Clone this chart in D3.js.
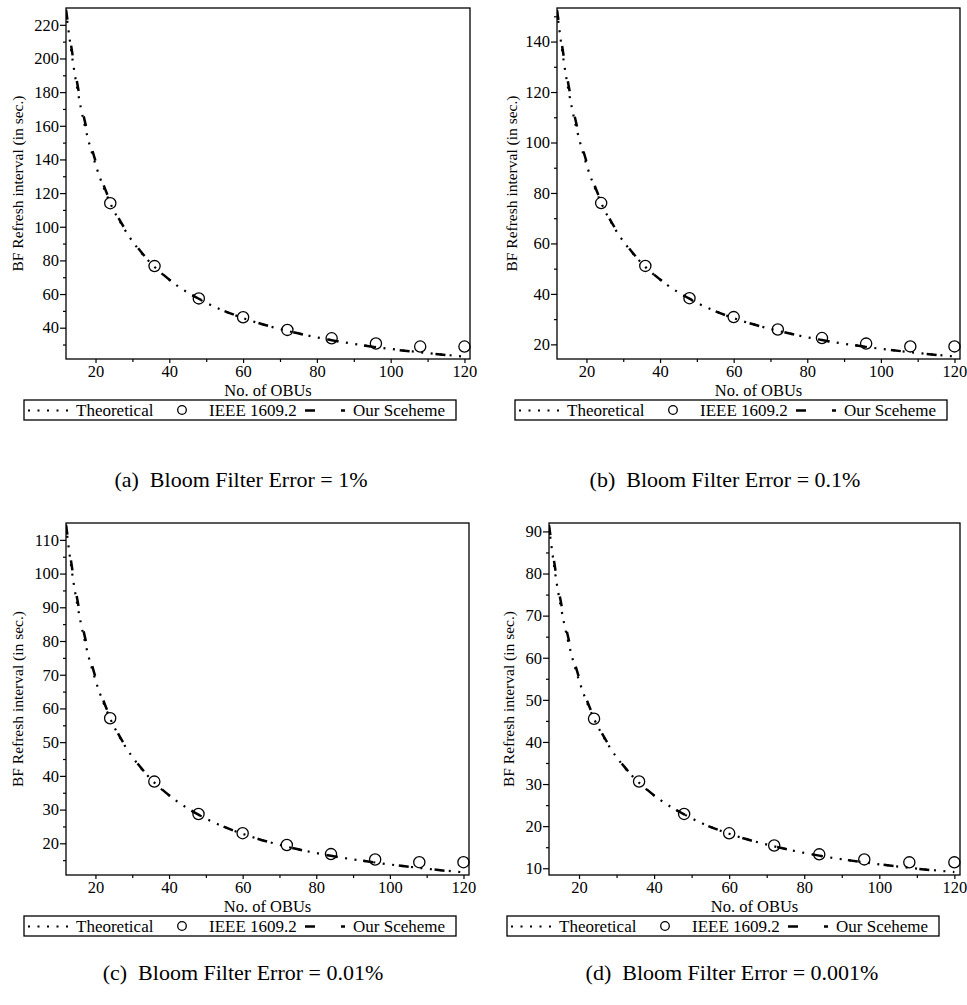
<!DOCTYPE html>
<html>
<head>
<meta charset="utf-8">
<script src="https://cdn.jsdelivr.net/npm/d3@7"></script>
<style>
  body { margin: 0; background: #fff; }
  svg text { font-family: "Liberation Serif", "Times New Roman", serif !important; fill: #000; }
</style>
</head>
<body>
<div id="chart"></div>
<script>
// x values used for the two curves
var curveN = [12, 14, 16, 18, 20, 24, 28, 32, 36, 42, 48, 54, 60, 72, 84, 96, 108, 120];
// x values of the IEEE 1609.2 markers
var markerN = [24, 36, 48, 60, 72, 84, 96, 108, 120];

// Theoretical curves (one per panel)
var theoryA = [228, 196, 171, 152, 137, 114, 98, 85.6, 76.1, 65.2, 57.1, 50.7, 45.7, 38.1, 32.6, 28.5, 25.4, 22.8];
var theoryB = [152, 130.5, 114, 101.5, 91.3, 76.1, 65.2, 57.1, 50.7, 43.5, 38.0, 33.8, 30.4, 25.4, 21.7, 19.0, 16.9, 15.2];
var theoryC = [114, 97.7, 85.5, 76, 68.4, 57, 48.9, 42.8, 38, 32.6, 28.5, 25.3, 22.8, 19, 16.3, 14.3, 12.7, 11.4];
var theoryD = [91, 78, 68.3, 60.7, 54.6, 45.5, 39, 34.1, 30.3, 26, 22.8, 20.2, 18.2, 15.2, 13, 11.4, 10.1, 9.1];

// Our scheme curves
var oursA = [229, 199, 174, 154.5, 139, 115, 98.6, 86, 76.3, 65.3, 57.2, 50.8, 45.8, 38.1, 32.6, 28.4, 25.3, 22.7];
var oursB = [152.5, 132.5, 116, 103, 92.5, 76.6, 65.5, 57.3, 50.8, 43.6, 38.1, 33.8, 30.4, 25.4, 21.7, 19.0, 16.9, 15.1];
var oursC = [114.5, 99.2, 87, 77.2, 69.3, 57.4, 49.1, 42.9, 38.1, 32.6, 28.5, 25.3, 22.8, 19, 16.3, 14.3, 12.7, 11.3];
var oursD = [91.5, 79.2, 69.4, 61.6, 55.3, 45.8, 39.2, 34.2, 30.4, 26, 22.8, 20.2, 18.2, 15.2, 13, 11.4, 10.1, 9.0];

// IEEE 1609.2 markers
var ieeeA = [114, 76.6, 57.4, 46.2, 38.7, 33.7, 30.6, 28.8, 28.8];
var ieeeB = [76, 51.1, 38.3, 30.8, 25.9, 22.5, 20.3, 19.2, 19.2];
var ieeeC = [57.1, 38.3, 28.7, 23, 19.5, 16.8, 15.2, 14.4, 14.4];
var ieeeD = [45.5, 30.6, 22.9, 18.3, 15.4, 13.3, 12.1, 11.4, 11.4];

// axis ticks
var xTicks = [20, 40, 60, 80, 100, 120];
var xMinor = [30, 50, 70, 90, 110];
var yTicksA = [40, 60, 80, 100, 120, 140, 160, 180, 200, 220];
var yTicksB = [20, 40, 60, 80, 100, 120, 140];
var yTicksC = [20, 30, 40, 50, 60, 70, 80, 90, 100, 110];
var yTicksD = [10, 20, 30, 40, 50, 60, 70, 80, 90];

var captions = ["(a)  Bloom Filter Error = 1%", "(b)  Bloom Filter Error = 0.1%",
                "(c)  Bloom Filter Error = 0.01%", "(d)  Bloom Filter Error = 0.001%"];
var legendNames = ["Theoretical", "IEEE 1609.2", "Our Sceheme"];

var xLabel = "No. of OBUs";
var yLabel = "BF Refresh interval (in sec.)";

var W = 967, H = 1005;
var serif = '"Liberation Serif", "Times New Roman", serif';

var svg = d3.select("#chart")
  .append("svg")
  .attr("width", W)
  .attr("height", H);

// panel layout: plot frame box, y domain, minor tick step
var panels = [
  {left: 66, right: 470, top: 8, bottom: 359, yDom: [21.4, 230], minor: 10, yT: yTicksA,
   theory: theoryA, ours: oursA, ieee: ieeeA, labelX: 18, capX: 241, capY: 487},
  {left: 557, right: 960, top: 8, bottom: 359, yDom: [14.2, 153.3], minor: 10, yT: yTicksB,
   theory: theoryB, ours: oursB, ieee: ieeeB, labelX: 512, capX: 725, capY: 487},
  {left: 66, right: 469, top: 523, bottom: 875, yDom: [10.6, 115], minor: 5, yT: yTicksC,
   theory: theoryC, ours: oursC, ieee: ieeeC, labelX: 18, capX: 243, capY: 980},
  {left: 549, right: 960, top: 523, bottom: 875, yDom: [8.4, 92], minor: 5, yT: yTicksD,
   theory: theoryD, ours: oursD, ieee: ieeeD, labelX: 509, capX: 732, capY: 980}
];

panels.forEach(function(p, i) {
  var g = svg.append("g");

  var x = d3.scaleLinear().domain([12, 121.5]).range([p.left, p.right]);
  var y = d3.scaleLinear().domain(p.yDom).range([p.bottom, p.top]);

  // X Axis (minor + major)
  g.append("g")
    .attr("transform", "translate(0," + p.bottom + ")")
    .call(d3.axisBottom(x).tickValues(xMinor).tickSize(3).tickFormat(""))
    .call(s => s.select(".domain").remove());
  g.append("g")
    .attr("transform", "translate(0," + p.bottom + ")")
    .attr("font-family", serif)
    .call(d3.axisBottom(x).tickValues(xTicks).tickSize(4).tickPadding(2))
    .call(s => s.select(".domain").remove())
    .selectAll("text")
    .style("font-family", serif)
    .style("font-size", "16.5px");

  // Y Axis (minor + major)
  var minorY = d3.range(Math.ceil(p.yDom[0] / p.minor) * p.minor, p.yDom[1], p.minor)
    .filter(v => p.yT.indexOf(v) < 0);
  g.append("g")
    .attr("transform", "translate(" + p.left + ",0)")
    .call(d3.axisLeft(y).tickValues(minorY).tickSize(3).tickFormat(""))
    .call(s => s.select(".domain").remove());
  g.append("g")
    .attr("transform", "translate(" + p.left + ",0)")
    .attr("font-family", serif)
    .call(d3.axisLeft(y).tickValues(p.yT).tickSize(6).tickPadding(1))
    .call(s => s.select(".domain").remove())
    .selectAll("text")
    .style("font-family", serif)
    .style("font-size", "16.5px");

  g.selectAll(".tick line").attr("stroke", "#000").attr("stroke-width", 1.2);

  // clip for curves
  g.append("clipPath").attr("id", "clip" + i)
    .append("rect")
    .attr("x", p.left).attr("y", p.top)
    .attr("width", p.right - p.left).attr("height", p.bottom - p.top);

  var line = d3.line()
    .x((d, j) => x(curveN[j]))
    .y(d => y(d))
    .curve(d3.curveMonotoneX);

  // Theoretical (dotted)
  g.append("path")
    .datum(p.theory)
    .attr("clip-path", "url(#clip" + i + ")")
    .attr("fill", "none")
    .attr("stroke", "#000")
    .attr("stroke-width", 2.2)
    .attr("stroke-dasharray", "2,7.5")
    .attr("d", line);

  // Our scheme (long dash)
  g.append("path")
    .datum(p.ours)
    .attr("clip-path", "url(#clip" + i + ")")
    .attr("fill", "none")
    .attr("stroke", "#000")
    .attr("stroke-width", 2.5)
    .attr("stroke-dasharray", "10,26")
    .attr("d", line);

  // IEEE 1609.2 circles
  g.selectAll(".dot")
    .data(p.ieee)
    .enter().append("circle")
    .attr("cx", (d, j) => x(markerN[j]))
    .attr("cy", d => y(d))
    .attr("r", 5.6)
    .attr("fill", "none")
    .attr("stroke", "#000")
    .attr("stroke-width", 1.3);

  // frame
  g.append("rect")
    .attr("x", p.left).attr("y", p.top)
    .attr("width", p.right - p.left).attr("height", p.bottom - p.top)
    .attr("fill", "none")
    .attr("stroke", "#000")
    .attr("stroke-width", 1.3);

  // X Axis Label
  g.append("text")
    .attr("x", (p.left + p.right) / 2)
    .attr("y", p.bottom + 37)
    .attr("text-anchor", "middle")
    .style("font-size", "16.5px")
    .text(xLabel);

  // Y Axis Label
  g.append("text")
    .attr("transform", "translate(" + (p.labelX + 5) + "," + ((p.top + p.bottom) / 2) + ") rotate(-90)")
    .attr("text-anchor", "middle")
    .style("font-size", "15.5px")
    .text(yLabel);

  // Legend
  var lx = p.left - 42, ly = p.bottom + 41;
  var lg = g.append("g").attr("transform", "translate(" + lx + "," + ly + ")");
  lg.append("rect")
    .attr("width", 432).attr("height", 20)
    .attr("fill", "none").attr("stroke", "#000").attr("stroke-width", 1.3);
  lg.append("line")
    .attr("x1", 4).attr("x2", 44).attr("y1", 10.5).attr("y2", 10.5)
    .attr("stroke", "#000").attr("stroke-width", 2).attr("stroke-dasharray", "2,7.5");
  lg.append("text").attr("x", 52).attr("y", 15.5).style("font-size", "17px").text(legendNames[0]);
  lg.append("circle").attr("cx", 158).attr("cy", 10).attr("r", 4.3)
    .attr("fill", "none").attr("stroke", "#000").attr("stroke-width", 1.3);
  lg.append("text").attr("x", 185).attr("y", 15.5).style("font-size", "17px").text(legendNames[1]);
  lg.append("line")
    .attr("x1", 281).attr("x2", 321).attr("y1", 10.5).attr("y2", 10.5)
    .attr("stroke", "#000").attr("stroke-width", 2.4).attr("stroke-dasharray", "10,26");
  lg.append("text").attr("x", 329).attr("y", 15.5).style("font-size", "17px").text(legendNames[2]);

  // Caption
  svg.append("text")
    .attr("x", p.capX)
    .attr("y", p.capY)
    .attr("text-anchor", "middle")
    .style("font-size", "22px")
    .style("white-space", "pre")
    .text(captions[i]);
});
</script>
</body>
</html>
